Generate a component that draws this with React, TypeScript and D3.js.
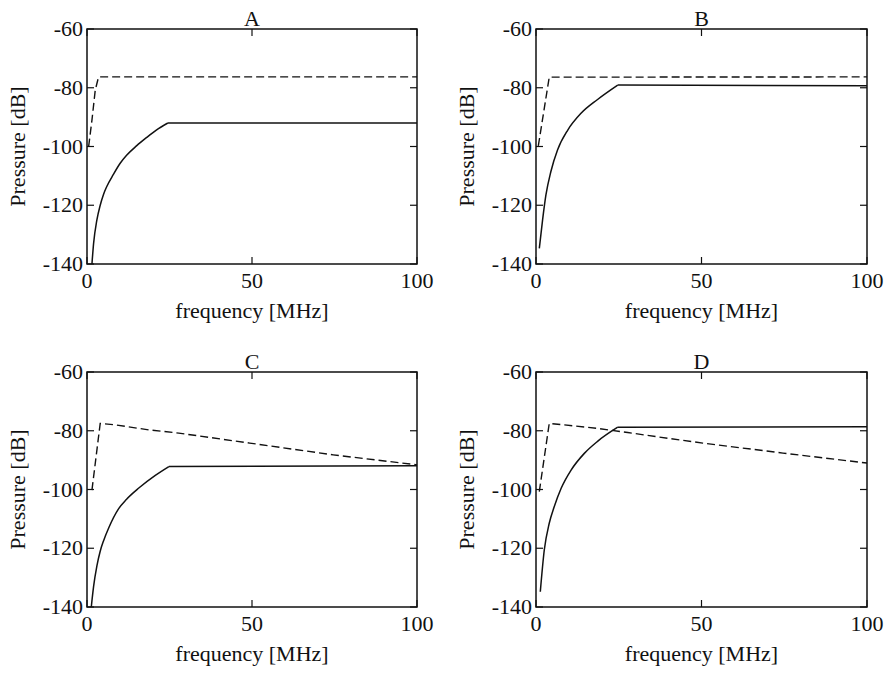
import React from "react";
import * as d3 from "d3";

// ---- data (frequency in MHz, pressure in dB) ----
const panelTitles = ["A", "B", "C", "D"];
const yTicks = [-60, -80, -100, -120, -140];
const xTicks = [0, 50, 100];
const xTickLabels = ["0", "50", "100"];
const yTickLabels = ["-60", "-80", "-100", "-120", "-140"];

// solid: rising part up to the knee, last point = flat end at 100 MHz
const aSolidX = [1.5, 2, 3, 4, 5, 6, 8, 10, 12, 15, 18, 21, 24.5, 100];
const aSolidY = [-140, -133, -125, -120, -116.3, -113.6, -109.5, -105.8, -103, -99.8, -97, -94.4, -92, -92];
const aDashX = [0.5, 1.5, 2.5, 3.5, 100];
const aDashY = [-100, -91, -80.8, -76.3, -76.3];

const bSolidX = [1.0, 2.0, 3.0, 4.5, 6.5, 9.6, 13.6, 18.6, 24.7, 100];
const bSolidY = [-134.7, -124.9, -116.5, -108.5, -101.2, -94.4, -88.7, -84.0, -79.1, -79.3];
const bDashX = [0.7, 4.0, 100];
const bDashY = [-99.8, -76.4, -76.3];

const cSolidX = [1.3, 2, 3, 4, 5, 6.6, 9.6, 12, 15.7, 20.7, 24.8, 100];
const cSolidY = [-140, -133, -126, -121, -117.5, -113, -106.5, -103.3, -99.5, -95.2, -92.2, -91.9];
const cDashX = [1.5, 4.0, 8.6, 18.7, 27.8, 49.3, 74.6, 100];
const cDashY = [-100.2, -77.5, -78, -79.7, -80.8, -84.2, -88.2, -91.6];

const dSolidX = [1.3, 2.5, 4.0, 5.5, 7.6, 10.6, 14.6, 18.6, 24.7, 100];
const dSolidY = [-134.8, -120.6, -111.5, -105.9, -99.6, -93.4, -87.7, -83.6, -78.8, -78.6];
const dDashX = [1.0, 4.0, 8.6, 18.6, 27.7, 36.3, 50.4, 74.6, 100];
const dDashY = [-100.7, -77.5, -78, -79.2, -80.6, -82, -84.2, -87.6, -91];

const xLabel = "frequency [MHz]";
const yLabel = "Pressure [dB]";

const series = [
  { solidX: aSolidX, solidY: aSolidY, dashX: aDashX, dashY: aDashY },
  { solidX: bSolidX, solidY: bSolidY, dashX: bDashX, dashY: bDashY },
  { solidX: cSolidX, solidY: cSolidY, dashX: cDashX, dashY: cDashY },
  { solidX: dSolidX, solidY: dSolidY, dashX: dDashX, dashY: dDashY },
];

const W = 887;
const H = 674;
const FONT = '"Liberation Serif", "Tinos", "Times New Roman", "Times", "FreeSerif", "DejaVu Serif"';
const FS = 22;
const INK = "#111";

const boxes = [
  { left: 87, right: 417, top: 29, bottom: 264 },
  { left: 536, right: 867, top: 29, bottom: 264 },
  { left: 87, right: 417, top: 372, bottom: 607 },
  { left: 536, right: 867, top: 372, bottom: 607 },
];

const textStyle: React.CSSProperties = { fontFamily: FONT, fontSize: FS };

function Panel({ idx }: { idx: number }) {
  const b = boxes[idx];
  const s = series[idx];
  const x = d3.scaleLinear().domain([0, 100]).range([b.left, b.right]);
  const y = d3.scaleLinear().domain([-140, -60]).range([b.bottom, b.top]);
  const n = s.solidX.length;
  const risePts: [number, number][] = s.solidX
    .slice(0, n - 1)
    .map((v, i) => [x(v), y(s.solidY[i])]);
  const flatPts: [number, number][] = [
    [x(s.solidX[n - 2]), y(s.solidY[n - 2])],
    [x(s.solidX[n - 1]), y(s.solidY[n - 1])],
  ];
  const rise = d3.line().curve(d3.curveMonotoneX)(risePts) as string;
  const flat = d3.line()(flatPts) as string;
  const dashed = d3
    .line<number>()
    .x((_, i) => x(s.dashX[i]))
    .y((v) => y(v))(s.dashY) as string;
  const tl = 7;
  const cy = (b.top + b.bottom) / 2;
  return (
    <g>
      <rect
        x={b.left}
        y={b.top}
        width={b.right - b.left}
        height={b.bottom - b.top}
        fill="none"
        stroke={INK}
        strokeWidth={1.5}
      />
      {yTicks.map((t, i) => (
        <g key={"y" + i}>
          <line x1={b.left} x2={b.left + tl} y1={y(t)} y2={y(t)} stroke={INK} strokeWidth={1.2} />
          <line x1={b.right} x2={b.right - tl} y1={y(t)} y2={y(t)} stroke={INK} strokeWidth={1.2} />
          <text x={b.left - 4} y={y(t) + 7} textAnchor="end" style={textStyle} fill={INK}>
            {yTickLabels[i]}
          </text>
        </g>
      ))}
      {xTicks.map((t, i) => (
        <g key={"x" + i}>
          <line x1={x(t)} x2={x(t)} y1={b.bottom} y2={b.bottom - tl} stroke={INK} strokeWidth={1.2} />
          <line x1={x(t)} x2={x(t)} y1={b.top} y2={b.top + tl} stroke={INK} strokeWidth={1.2} />
          <text x={x(t)} y={b.bottom + 24} textAnchor="middle" style={textStyle} fill={INK}>
            {xTickLabels[i]}
          </text>
        </g>
      ))}
      <path d={dashed} fill="none" stroke={INK} strokeWidth={1.4} strokeDasharray="8,4" />
      <path d={rise} fill="none" stroke={INK} strokeWidth={1.5} />
      <path d={flat} fill="none" stroke={INK} strokeWidth={1.5} />
      <text x={(b.left + b.right) / 2} y={b.top - 3} textAnchor="middle" style={textStyle} fill={INK}>
        {panelTitles[idx]}
      </text>
      <text x={(b.left + b.right) / 2} y={b.bottom + 54} textAnchor="middle" style={textStyle} fill={INK}>
        {xLabel}
      </text>
      <text
        transform={`translate(${b.left - 62},${cy}) rotate(-90)`}
        textAnchor="middle"
        style={textStyle}
        fill={INK}
      >
        {yLabel}
      </text>
    </g>
  );
}

export default function App() {
  return (
    <svg width={W} height={H} style={{ position: "absolute", left: 0, top: 0, background: "#fff" }}>
      <rect x={0} y={0} width={W} height={H} fill="#fff" />
      {[0, 1, 2, 3].map((i) => (
        <Panel key={i} idx={i} />
      ))}
    </svg>
  );
}
